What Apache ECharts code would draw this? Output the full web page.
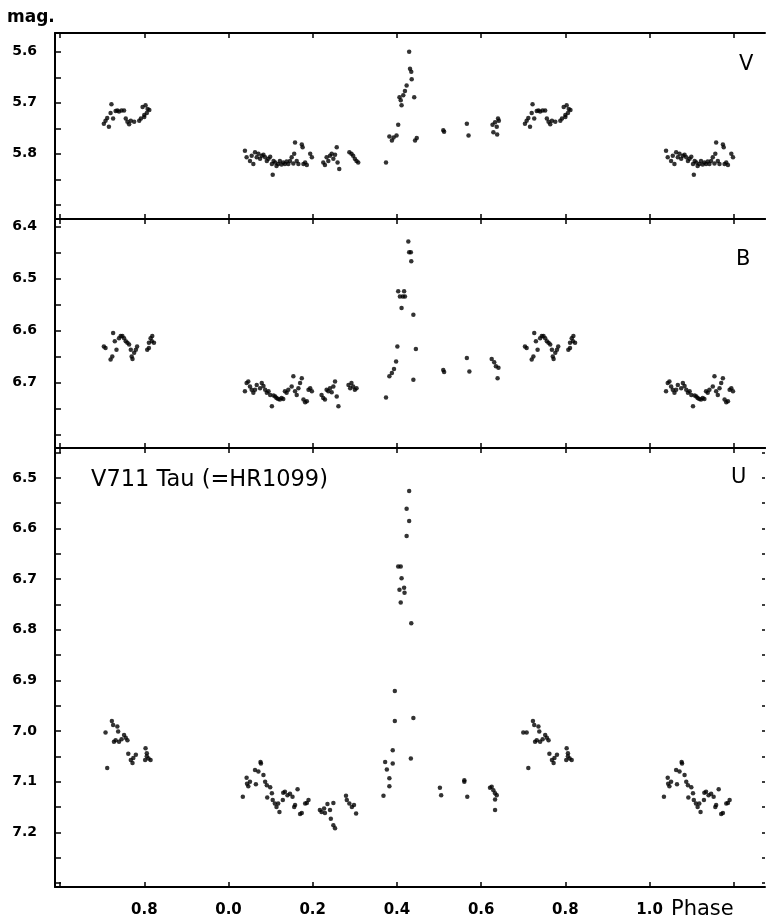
<!DOCTYPE html>
<html>
<head>
<meta charset="utf-8">
<script src="https://cdn.jsdelivr.net/npm/echarts@6/dist/echarts.min.js"></script>
<style>
  html, body { margin: 0; padding: 0; background: #fff; }
  #chart { width: 766px; height: 923px; }
</style>
</head>
<body>
<div id="chart"></div>
<script>
// V band: phase / magnitude
const vPhase = [
  0.704,0.708,0.712,0.716,0.720,0.722,0.726,0.732,0.736,0.740,0.746,0.752,0.756,0.760,0.764,0.768,0.776,0.788,0.792,0.796,0.800,0.800,0.803,0.806,0.808,0.812,
  0.039,0.043,0.051,0.055,0.059,0.063,0.067,0.071,0.075,0.079,0.083,0.087,0.091,0.095,0.099,0.103,0.105,0.107,0.111,0.114,0.118,0.122,0.126,0.130,0.134,0.138,0.142,0.146,0.150,0.154,0.156,0.158,0.162,0.166,0.174,0.176,0.178,0.182,0.186,0.194,0.198,0.225,0.229,0.233,0.237,0.241,0.245,0.249,0.253,0.257,0.259,0.263,0.287,0.292,0.296,0.300,0.304,0.308,
  0.374,0.382,0.388,0.392,0.399,0.403,0.406,0.409,0.411,0.415,0.419,0.423,0.429,0.431,0.434,0.435,0.441,0.443,0.447,0.510,0.512,0.566,0.570,0.627,0.629,0.633,0.637,0.638,0.640,0.642
];
const vMag = [
  5.741,5.735,5.730,5.747,5.720,5.703,5.731,5.716,5.715,5.717,5.715,5.715,5.731,5.737,5.742,5.735,5.737,5.735,5.731,5.708,5.728,5.724,5.705,5.720,5.712,5.714,
  5.794,5.807,5.814,5.804,5.820,5.797,5.807,5.800,5.810,5.804,5.802,5.807,5.814,5.810,5.806,5.820,5.841,5.814,5.817,5.824,5.820,5.814,5.821,5.817,5.820,5.815,5.820,5.814,5.807,5.819,5.800,5.778,5.814,5.820,5.782,5.787,5.820,5.817,5.822,5.800,5.807,5.817,5.822,5.807,5.814,5.804,5.800,5.810,5.802,5.787,5.817,5.830,5.797,5.800,5.804,5.810,5.814,5.817,
  5.817,5.766,5.774,5.768,5.764,5.743,5.689,5.695,5.705,5.685,5.677,5.666,5.600,5.633,5.639,5.654,5.689,5.774,5.769,5.754,5.757,5.741,5.764,5.743,5.758,5.738,5.747,5.762,5.731,5.735
];

// B band
const bPhase = [
  0.704,0.708,0.720,0.724,0.726,0.730,0.734,0.740,0.744,0.748,0.752,0.756,0.760,0.764,0.768,0.770,0.772,0.776,0.780,0.783,0.807,0.811,0.811,0.815,0.818,0.819,0.823,
  0.039,0.043,0.047,0.051,0.055,0.059,0.063,0.067,0.075,0.079,0.083,0.087,0.091,0.095,0.099,0.103,0.107,0.111,0.114,0.118,0.122,0.126,0.130,0.134,0.138,0.142,0.150,0.154,0.158,0.162,0.166,0.170,0.174,0.178,0.182,0.186,0.190,0.194,0.198,0.221,0.225,0.229,0.233,0.237,0.241,0.245,0.249,0.253,0.257,0.261,0.285,0.289,0.292,0.296,0.300,0.304,
  0.374,0.382,0.388,0.393,0.398,0.401,0.403,0.407,0.411,0.414,0.417,0.419,0.427,0.429,0.433,0.434,0.439,0.445,0.439,0.510,0.512,0.566,0.572,0.625,0.631,0.635,0.641,0.639
];
const bMag = [
  6.631,6.634,6.656,6.650,6.605,6.621,6.637,6.615,6.611,6.611,6.615,6.621,6.624,6.627,6.637,6.650,6.655,6.643,6.637,6.631,6.637,6.624,6.634,6.615,6.621,6.611,6.624,
  6.717,6.701,6.698,6.708,6.714,6.720,6.714,6.705,6.711,6.701,6.707,6.714,6.720,6.717,6.724,6.746,6.725,6.727,6.730,6.732,6.733,6.730,6.732,6.717,6.720,6.714,6.708,6.688,6.717,6.724,6.711,6.701,6.692,6.733,6.738,6.736,6.714,6.711,6.717,6.724,6.730,6.733,6.714,6.717,6.711,6.719,6.708,6.698,6.727,6.746,6.705,6.711,6.701,6.708,6.714,6.711,
  6.729,6.688,6.682,6.674,6.660,6.631,6.525,6.535,6.557,6.535,6.525,6.535,6.429,6.450,6.450,6.467,6.570,6.636,6.695,6.676,6.680,6.653,6.679,6.655,6.661,6.669,6.672,6.692
];

// U band
const uPhase = [
  0.700,0.708,0.712,0.723,0.726,0.728,0.732,0.736,0.738,0.740,0.746,0.752,0.756,0.760,0.762,0.768,0.772,0.774,0.780,0.802,0.803,0.806,0.806,0.810,0.815,
  0.034,0.043,0.044,0.047,0.051,0.063,0.065,0.071,0.076,0.077,0.083,0.087,0.091,0.092,0.099,0.103,0.105,0.110,0.114,0.118,0.121,0.129,0.130,0.134,0.140,0.146,0.152,0.156,0.158,0.164,0.170,0.174,0.182,0.186,0.190,0.217,0.221,0.227,0.229,0.235,0.241,0.243,0.249,0.249,0.253,0.279,0.281,0.287,0.293,0.298,0.303,
  0.368,0.372,0.376,0.382,0.382,0.390,0.390,0.395,0.395,0.403,0.406,0.409,0.409,0.411,0.417,0.418,0.423,0.423,0.429,0.429,0.433,0.434,0.439,0.502,0.505,0.560,0.560,0.567,0.621,0.625,0.629,0.633,0.633,0.633,0.637
];
const uMag = [
  7.003,7.003,7.073,6.980,6.988,7.021,7.018,6.991,7.001,7.021,7.016,7.008,7.013,7.018,7.045,7.057,7.063,7.053,7.047,7.057,7.034,7.044,7.050,7.054,7.057,
  7.130,7.092,7.104,7.109,7.100,7.077,7.105,7.080,7.061,7.064,7.087,7.100,7.107,7.131,7.111,7.123,7.136,7.143,7.150,7.143,7.160,7.136,7.122,7.120,7.127,7.124,7.130,7.150,7.146,7.115,7.164,7.162,7.143,7.142,7.136,7.156,7.160,7.153,7.162,7.144,7.156,7.173,7.142,7.186,7.192,7.128,7.136,7.143,7.150,7.146,7.163,
  7.128,7.061,7.076,7.093,7.109,7.038,7.064,6.921,6.980,6.675,6.721,6.675,6.746,6.698,6.717,6.727,6.561,6.615,6.526,6.585,7.054,6.787,6.974,7.112,7.127,7.097,7.100,7.130,7.112,7.110,7.117,7.123,7.135,7.156,7.127
];

const phaseTicks = [-0.4, -0.2, 0, 0.2, 0.4, 0.6, 0.8, 1.0, 1.2];
const phaseLabels = [-0.2, 0, 0.2, 0.4, 0.6, 0.8, 1.0];
const vTicks = [5.6, 5.65, 5.7, 5.75, 5.8, 5.85, 5.9];
const bTicks = [6.4, 6.45, 6.5, 6.55, 6.6, 6.65, 6.7, 6.75, 6.8];
const uTicks = [6.45, 6.5, 6.55, 6.6, 6.65, 6.7, 6.75, 6.8, 6.85, 6.9, 6.95, 7.0, 7.05, 7.1, 7.15, 7.2, 7.25, 7.3];
const vLabels = [5.6, 5.7, 5.8];
const bLabels = [6.4, 6.5, 6.6, 6.7];
const uLabels = [6.5, 6.6, 6.7, 6.8, 6.9, 7.0, 7.1, 7.2];

const XMIN = -0.412, XMAX = 1.274;

// phase-folded: repeat each point one cycle earlier / later inside the plotted span
function fold(ph, mag) {
  const out = [];
  ph.forEach((p, i) => {
    out.push([p, mag[i]]);
    if (p - 1 >= -0.30) out.push([p - 1, mag[i]]);
    if (p + 1 <= 1.21) out.push([p + 1, mag[i]]);
  });
  return out;
}

const chart = echarts.init(document.getElementById('chart'));

const lineStyle = { color: '#000', width: 2 };
const labelFont = { color: '#000', fontFamily: 'DejaVu Sans', fontWeight: 'bold' };

const xAx = (grid, pos, labels) => ({
  type: 'value', gridIndex: grid, position: pos, min: XMIN, max: XMAX,
  axisLine: { show: true, onZero: false, lineStyle },
  axisTick: { show: true, inside: true, length: 5, customValues: phaseTicks, lineStyle: { color: '#000', width: 1.5 } },
  axisLabel: labels ? {
    show: true, margin: 16, customValues: phaseLabels, ...labelFont, fontSize: 15,
    formatter: v => (v < 0 ? v + 1 : v).toFixed(1)
  } : { show: false },
  splitLine: { show: false }
});

const yAx = (grid, min, max, ticks, labels, pos) => ({
  type: 'value', gridIndex: grid, inverse: true, min, max, position: pos || 'left',
  axisLine: { show: pos !== 'right', onZero: false, lineStyle },
  axisTick: { show: true, inside: true, length: pos === 'right' ? 3 : 6, customValues: ticks, lineStyle: { color: '#000', width: 1.5 } },
  axisLabel: labels ? { show: true, margin: 18, customValues: labels, ...labelFont, fontSize: 14, formatter: v => v.toFixed(1) } : { show: false },
  splitLine: { show: false }
});

const scatter = (idx, data) => ({
  type: 'scatter', xAxisIndex: idx * 2, yAxisIndex: idx, data,
  symbol: 'circle', symbolSize: 4.5, itemStyle: { color: '#000' }, silent: true
});

chart.setOption({
  animation: false,
  backgroundColor: '#fff',
  grid: [
    { left: 55, right: 1, top: 33, height: 186 },
    { left: 55, right: 1, top: 219, height: 229 },
    { left: 55, right: 1, top: 448, height: 439 }
  ],
  xAxis: [
    xAx(0, 'bottom', false), xAx(0, 'top', false),
    xAx(1, 'bottom', false), xAx(1, 'top', false),
    xAx(2, 'bottom', true), xAx(2, 'top', false)
  ],
  yAxis: [
    yAx(0, 5.563, 5.928, vTicks, vLabels),
    yAx(1, 6.386, 6.826, bTicks, bLabels),
    yAx(2, 6.441, 7.308, uTicks, uLabels),
    yAx(2, 6.441, 7.308, uTicks, null, 'right')
  ],
  series: [
    scatter(0, fold(vPhase, vMag)),
    scatter(1, fold(bPhase, bMag)),
    scatter(2, fold(uPhase, uMag))
  ],
  graphic: [
    { type: 'text', left: 7, top: 9, style: { text: 'mag.', font: 'bold 17px "DejaVu Sans"', fill: '#000' } },
    { type: 'text', left: 739, top: 54, style: { text: 'V', font: '21px "DejaVu Sans"', fill: '#000' } },
    { type: 'text', left: 736, top: 249, style: { text: 'B', font: '21px "DejaVu Sans"', fill: '#000' } },
    { type: 'text', left: 731, top: 467, style: { text: 'U', font: '21px "DejaVu Sans"', fill: '#000' } },
    { type: 'text', left: 91, top: 469, style: { text: 'V711 Tau (=HR1099)', font: '22.5px "DejaVu Sans"', fill: '#000' } },
    { type: 'text', left: 671, top: 899, style: { text: 'Phase', font: '21px "DejaVu Sans"', fill: '#000' } }
  ]
});
</script>
</body>
</html>
